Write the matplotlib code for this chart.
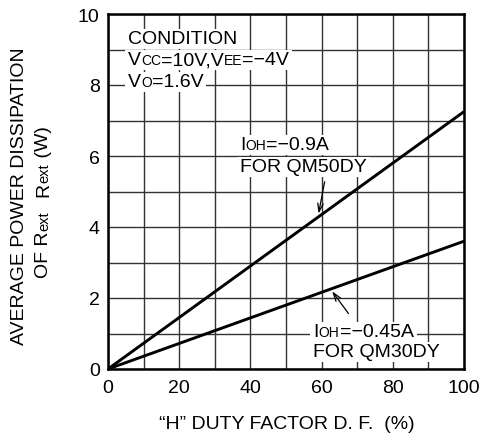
import matplotlib
matplotlib.use("Agg")
import matplotlib.pyplot as plt
from matplotlib.patches import Rectangle
from matplotlib.transforms import IdentityTransform, Bbox

plt.rcParams["font.family"] = ["Liberation Sans", "DejaVu Sans"]

# data
duty = [0, 20, 40, 60, 80, 100]
p_qm50 = [0, 1.45, 2.9, 4.35, 5.8, 7.25]
p_qm30 = [0, 0.72, 1.44, 2.16, 2.88, 3.6]

x_ticks = [0, 20, 40, 60, 80, 100]
y_ticks = [0, 2, 4, 6, 8, 10]

fig = plt.figure(figsize=(4.8, 4.39), dpi=100)
ax = fig.add_axes([108 / 480, 69 / 439, 356 / 480, 355 / 439])
ax.set_xlim(0, 100)
ax.set_ylim(0, 10)

ax.set_xticks(x_ticks)
ax.set_yticks(y_ticks)
ax.set_xticks(range(0, 101, 10), minor=True)
ax.set_yticks(range(0, 11, 1), minor=True)
ax.tick_params(which="both", length=0, labelsize=14)
ax.tick_params(axis="x", pad=7)
ax.tick_params(axis="y", pad=6)
ax.grid(which="both", color="#333333", linewidth=1.0)
ax.set_axisbelow(True)
for s in ax.spines.values():
    s.set_linewidth(1.8)

ax.plot(duty, p_qm50, color="black", linewidth=2.1, solid_capstyle="butt", zorder=3)
ax.plot(duty, p_qm30, color="black", linewidth=2.1, solid_capstyle="butt", zorder=3)

fig.canvas.draw()
renderer = fig.canvas.get_renderer()


def put_runs(x, y, parts, rot=0, box=True):
    # x, y: display pixels of the baseline start; parts: (text, size)
    boxes = []
    for s, size in parts:
        t = fig.text(x, y, s, fontsize=size, transform=IdentityTransform(),
                     rotation=rot, rotation_mode="anchor", ha="left",
                     va="baseline", zorder=5)
        bb = t.get_window_extent(renderer)
        boxes.append(bb)
        if rot == 0:
            x += bb.width
        else:
            y += bb.height
    if box:
        u = Bbox.union(boxes)
        fig.add_artist(Rectangle((u.x0 - 3, u.y0 - 2), u.width + 6, u.height + 3,
                                 transform=IdentityTransform(), facecolor="white",
                                 edgecolor="none", zorder=4))
    return x, y


def put_data(xd, yd, parts):
    px, py = ax.transData.transform((xd, yd))
    put_runs(px, py, parts)


big, small = 14, 10
put_data(5.6, 9.18, [("CONDITION", big)])
put_data(5.6, 8.59, [("V", big), ("CC", small), ("=10V,V", big), ("EE", small), ("=\u22124V", big)])
put_data(5.6, 7.97, [("V", big), ("O", small), ("=1.6V", big)])

put_data(37.1, 6.2, [("I", big), ("OH", small), ("=\u22120.9A", big)])
put_data(37.1, 5.58, [("FOR QM50DY", big)])
put_data(57.7, 0.93, [("I", big), ("OH", small), ("=\u22120.45A", big)])
put_data(57.7, 0.37, [("FOR QM30DY", big)])

ax.annotate("", xy=(59, 4.3), xytext=(61, 5.35),
            arrowprops=dict(arrowstyle="->,head_length=0.6,head_width=0.2",
                            color="black", linewidth=0.9), zorder=6)
ax.annotate("", xy=(62.5, 2.25), xytext=(68, 1.5),
            arrowprops=dict(arrowstyle="->,head_length=0.6,head_width=0.2",
                            color="black", linewidth=0.9), zorder=6)

fig.text(287 / 480, 1 - 425 / 439, "\u201cH\u201d DUTY FACTOR D. F.  (%)",
         ha="center", va="center", fontsize=14)

# y label, two rotated lines
fig.text(20 / 480, 1 - 196 / 439, "AVERAGE POWER DISSIPATION",
         rotation=90, ha="center", va="center", fontsize=14)
x2, y2 = put_runs(48, 439 - 278, [("OF R", 14), ("ext", 10.5)], rot=90, box=False)
put_runs(48, y2 + 15, [("R", 14), ("ext", 10.5), (" (W)", 14)], rot=90, box=False)

fig.savefig("out.png", dpi=100)
